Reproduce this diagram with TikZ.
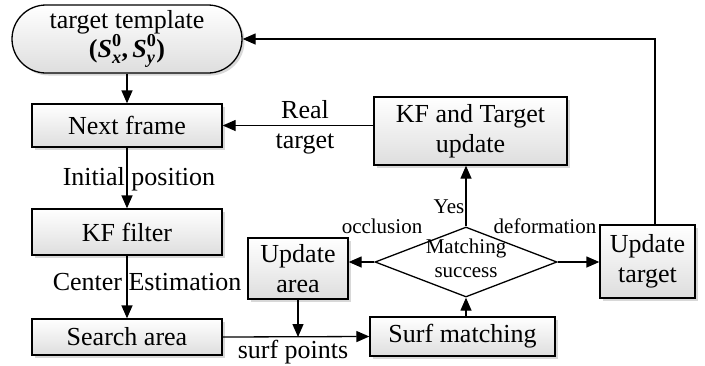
\documentclass[tikz,border=0pt]{standalone}
\usepackage{fontspec}
\usepackage{amsmath}
\setmainfont{Liberation Serif}
\newfontfamily\tnr{Liberation Serif}
\usetikzlibrary{shapes.geometric,arrows.meta,shadows}
\newcommand{\bitx}[1]{\text{\tnr\bfseries\itshape #1}}
\newcommand{\bupr}[1]{\text{\tnr\bfseries #1}}
\tikzset{
  big/.style={font=\tnr\fontsize{26}{30}\selectfont},
  small/.style={font=\tnr\fontsize{21}{24}\selectfont},
  procbox/.style={draw, line width=1.3pt, top color=white, bottom color=black!13,
    drop shadow={shadow xshift=2.5pt, shadow yshift=-2.5pt, fill=black!30, opacity=0.5},
    inner sep=0pt, align=center, big},
  arr/.style={line width=1.3pt, -{Triangle[length=13pt,width=11pt]}},
  lbl/.style={inner sep=0pt, align=center}
}
\begin{document}
\begin{tikzpicture}[x=1pt,y=-1pt]
\useasboundingbox (0,0) rectangle (705,365);
% nodes
\node[procbox, rounded corners=34pt, minimum width=230pt, minimum height=68pt] (tt) at (127,39)
  {target template\\[-1pt]{\bfseries(}$\bitx{S}^{\bupr{0}}_{\bitx{x}}${\bfseries,}$\,\bitx{S}^{\bupr{0}}_{\bitx{y}}${\bfseries)}};
\node[procbox, minimum width=190pt, minimum height=43pt] (nf) at (127,125.5) {Next frame};
\node[procbox, minimum width=190pt, minimum height=46pt] (kf) at (127,232) {KF filter};
\node[procbox, minimum width=190pt, minimum height=36pt] (sa) at (127,337) {Search area};
\node[procbox, minimum width=193pt, minimum height=68pt] (kfu) at (470.5,131) {KF and Target\\update};
\node[procbox, minimum width=100pt, minimum height=61pt] (ua) at (298,268.5) {Update\\area};
\node[procbox, minimum width=185pt, minimum height=39pt] (sm) at (462.5,336.5) {Surf matching};
\node[procbox, minimum width=95pt, minimum height=73pt] (ut) at (647.5,261.5) {Update\\target};
\node[diamond, draw, line width=1.3pt, fill=white, minimum width=182pt, minimum height=70pt, inner sep=0pt] (dm) at (466,262) {};
\node[lbl, small] (dmt) at (466,258) {Matching\\success};
% connectors
\draw[arr] (tt.south) -- (nf.north);
\draw[arr] (nf.south) -- (kf.north);
\node[lbl, big] (lip) at (139,179) {Initial position};
\draw[arr] (kf.south) -- (sa.north);
\node[lbl, big] (lce) at (147,282) {Center Estimation};
\draw[arr] (kfu.west |- nf.east) -- (nf.east);
\node[lbl, big] (lrt) at (305,127) {Real\\target};
\draw[arr] (dm.north) -- (dm.north |- kfu.south);
\node[lbl, small] (lyes) at (449,207) {Yes};
\draw[arr] (dm.west) -- (ua.east |- dm.west);
\node[lbl, small] (locc) at (382,226) {occlusion};
\draw[arr] (dm.east) -- (ut.west |- dm.east);
\node[lbl, small] (ldef) at (545,226) {deformation};
\draw[arr] ([xshift=7.5pt]ut.north) |- (tt.east);
\draw[arr] (sa.east) -- (sm.west);
\node[lbl, big] (lsp) at (293,352) {surf points};
\draw[arr] (ua.south) -- (ua.south |- sa.east);
\draw[arr] (dm.south |- sm.north) -- (dm.south);
\end{tikzpicture}
\end{document}
